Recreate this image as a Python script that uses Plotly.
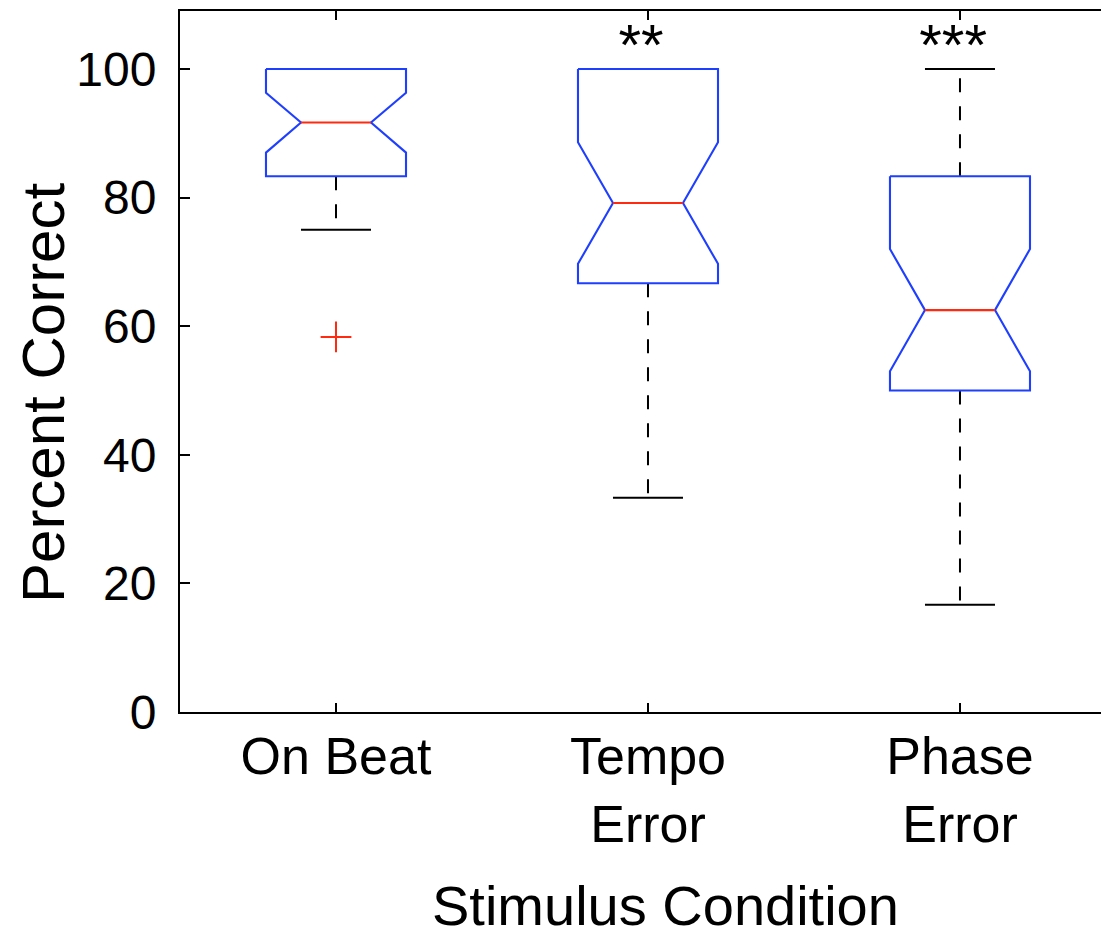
import plotly.graph_objects as go

# ---- data ----
categories = ["On Beat", "Tempo<br>Error", "Phase<br>Error"]
q1 = [83.33, 66.67, 50.0]
median = [91.67, 79.17, 62.5]
q3 = [100.0, 100.0, 83.33]
notch_lo = [87.0, 69.7, 53.0]
notch_hi = [96.3, 88.6, 72.0]
whisker_lo = [75.0, 33.33, 16.67]
whisker_hi = [100.0, 100.0, 100.0]
outlier_cat = [0]
outlier_val = [58.33]
significance = ["", "**", "***"]
y_ticks = [0, 20, 40, 60, 80, 100]

# ---- style ----
BLUE = "#1f3fff"
RED = "#ff2a10"
FONT = "Liberation Sans, Arial, Helvetica, sans-serif"
half_w = 0.2244
notch_w = half_w / 2
cap_w = half_w / 2
sig_y = 102.9
sig_dx = -0.022

positions = [i + 1 for i in range(len(categories))]

fig = go.Figure()

# whiskers (dashed) and caps
for c, lo, hi, a, b in zip(positions, q1, q3, whisker_lo, whisker_hi):
    for edge, end in ((hi, b), (lo, a)):
        if end != edge:
            fig.add_trace(go.Scatter(x=[c, c], y=[edge, end], mode="lines",
                                     line=dict(color="black", width=2, dash="14px,14px"),
                                     hoverinfo="skip"))
            fig.add_trace(go.Scatter(x=[c - cap_w, c + cap_w], y=[end, end], mode="lines",
                                     line=dict(color="black", width=2), hoverinfo="skip"))

# notched boxes
for c, lo, md, hi, nl, nh in zip(positions, q1, median, q3, notch_lo, notch_hi):
    xs = [c - half_w, c + half_w, c + half_w, c + notch_w, c + half_w, c + half_w,
          c - half_w, c - half_w, c - notch_w, c - half_w, c - half_w]
    ys = [hi, hi, nh, md, nl, lo, lo, nl, md, nh, hi]
    fig.add_trace(go.Scatter(x=xs, y=ys, mode="lines",
                             line=dict(color=BLUE, width=2.1), hoverinfo="skip"))
    fig.add_trace(go.Scatter(x=[c - notch_w, c + notch_w], y=[md, md], mode="lines",
                             line=dict(color=RED, width=2.1), hoverinfo="skip"))

# outliers
fig.add_trace(go.Scatter(x=[positions[i] for i in outlier_cat], y=outlier_val, mode="markers",
                         marker=dict(symbol="cross-thin-open", size=22,
                                     line=dict(color=RED, width=2), color=RED),
                         hoverinfo="skip"))

# significance stars
fig.add_trace(go.Scatter(x=[p + sig_dx for p in positions], y=[sig_y] * len(positions),
                         mode="text", text=significance, textposition="middle center",
                         textfont=dict(family=FONT, size=58, color="black"),
                         hoverinfo="skip"))

fig.update_layout(
    width=1101, height=951,
    margin=dict(l=180, r=0, t=11, b=239, pad=0),
    paper_bgcolor="white", plot_bgcolor="white",
    showlegend=False,
    font=dict(family=FONT, color="black"),
    xaxis=dict(range=[0.5, 3.452], tickvals=positions, ticktext=categories,
               ticks="inside", ticklen=9, tickwidth=2, tickcolor="black",
               showline=True, linewidth=2, linecolor="black", mirror="ticks",
               showgrid=False, zeroline=False,
               tickfont=dict(family=FONT, size=52, color="black"),
               ticklabelstandoff=-2),
    yaxis=dict(range=[0, 109.02], tickvals=y_ticks, ticktext=[str(v) for v in y_ticks],
               ticks="inside", ticklen=10, tickwidth=2, tickcolor="black",
               showline=True, linewidth=2, linecolor="black", mirror=False,
               showgrid=False, zeroline=False,
               tickfont=dict(family=FONT, size=48, color="black"),
               ticklabelstandoff=12),
    annotations=[
        dict(text="Stimulus Condition", xref="paper", yref="paper",
             x=(665 - 180) / 921, y=0, xanchor="center", yanchor="middle",
             yshift=-193, showarrow=False,
             font=dict(family=FONT, size=56, color="black")),
        dict(text="Percent Correct", xref="paper", yref="paper",
             x=0, y=(712 - 393) / 701, xanchor="center", yanchor="middle",
             xshift=-137, textangle=-90, showarrow=False,
             font=dict(family=FONT, size=60, color="black")),
    ],
)

fig.write_html("out.html")
